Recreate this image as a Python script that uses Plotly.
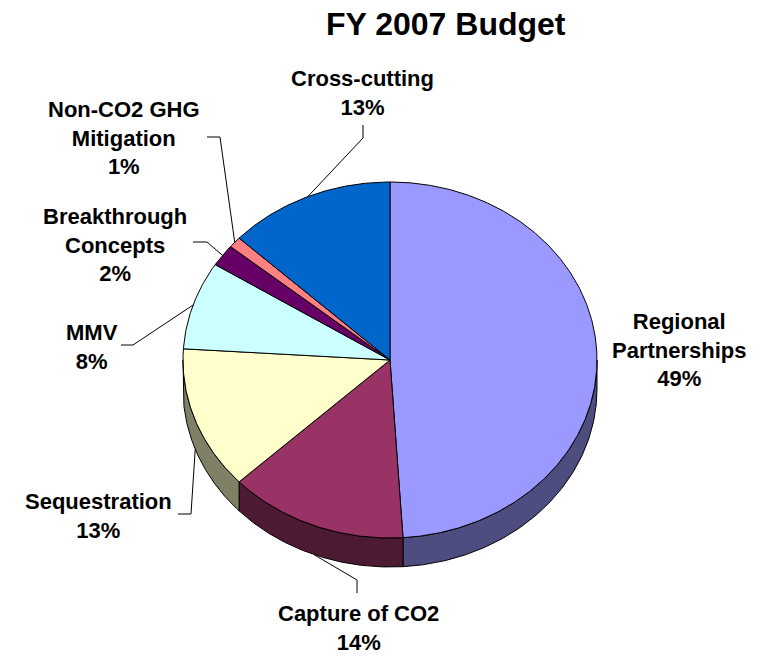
import numpy as np
import plotly.graph_objects as go

# ---- data ----
categories = ["Regional Partnerships", "Capture of CO2", "Sequestration", "MMV",
              "Breakthrough Concepts", "Non-CO2 GHG Mitigation", "Cross-cutting"]
label_lines = ["Regional<br>Partnerships", "Capture of CO2", "Sequestration", "MMV",
               "Breakthrough<br>Concepts", "Non-CO2 GHG<br>Mitigation", "Cross-cutting"]
values = [49, 14, 13, 8, 2, 1, 13]
title = "FY 2007 Budget"

top_colors = ["#9999FF", "#993366", "#FFFFCC", "#CCFFFF", "#660066", "#FF8080", "#0066CC"]
side_colors = ["#4D4D80", "#4D1A33", "#808066", "#668080", "#330033", "#804040", "#003366"]

# ---- geometry (pixel-like data space) ----
W, H = 763, 657
cx, cy, rx, ry, depth = 390, 360, 207, 178, 29
FONT = "Liberation Sans, Arial, sans-serif"


def pt(theta, dy=0.0):
    t = np.radians(theta)
    return cx + rx * np.sin(t), cy - ry * np.cos(t) + dy


total = float(sum(values))
bounds = np.concatenate([[0.0], np.cumsum(values) / total * 360.0])

fig = go.Figure()

# side faces (front half only: 90..270 deg clockwise from top)
for i in range(len(values)):
    a0, a1 = bounds[i], bounds[i + 1]
    s0, s1 = max(a0, 90.0), min(a1, 270.0)
    if s1 <= s0:
        continue
    th = np.linspace(s0, s1, 120)
    xt, yt = pt(th)
    xb, yb = pt(th[::-1], depth)
    xs = np.concatenate([xt, xb, xt[:1]])
    ys = np.concatenate([yt, yb, yt[:1]])
    fig.add_trace(go.Scatter(x=xs, y=ys, mode="lines", fill="toself",
                             fillcolor=side_colors[i],
                             line=dict(color="black", width=1),
                             hoverinfo="skip", showlegend=False))

# top faces
for i in range(len(values)):
    a0, a1 = bounds[i], bounds[i + 1]
    th = np.linspace(a0, a1, max(10, int((a1 - a0) * 2)))
    xa, ya = pt(th)
    xs = np.concatenate([[cx], xa, [cx]])
    ys = np.concatenate([[cy], ya, [cy]])
    fig.add_trace(go.Scatter(x=xs, y=ys, mode="lines", fill="toself",
                             fillcolor=top_colors[i],
                             line=dict(color="black", width=1),
                             hoverinfo="skip", showlegend=False,
                             name=categories[i]))

# label layout: text center, leader start, leader elbow (None = no leader)
label_pos = [(679, 350), (358, 628), (98, 516), (92, 347), (115, 245), (124, 138), (362, 93)]
leader_start = [None, (357, 593), (178, 514), (121, 345), (193, 242), (207, 137), (363, 125)]
leader_elbow = [None, (357, 580), (191, 514), (133, 345), (207, 242), (220, 137), (363, 138)]

for i in range(len(values)):
    pct = f"{values[i] / total * 100:.0f}%"
    lx, ly = label_pos[i]
    fig.add_annotation(x=lx, y=ly, text=f"<b>{label_lines[i]}<br>{pct}</b>",
                       showarrow=False, xref="x", yref="y",
                       font=dict(family=FONT, size=22, color="black"),
                       align="center")
    if leader_start[i] is not None:
        mid = (bounds[i] + bounds[i + 1]) / 2
        dy = depth if 90 < mid < 270 else 0
        ex, ey = pt(mid, dy)
        sx, sy = leader_start[i]
        bx, by = leader_elbow[i]
        fig.add_trace(go.Scatter(x=[sx, bx, ex], y=[sy, by, ey], mode="lines",
                                 line=dict(color="black", width=1),
                                 hoverinfo="skip", showlegend=False))

fig.add_annotation(x=446, y=24, text=f"<b>{title}</b>", showarrow=False,
                   xref="x", yref="y",
                   font=dict(family=FONT, size=32, color="black"))

fig.update_layout(
    width=W, height=H, margin=dict(l=0, r=0, t=0, b=0),
    paper_bgcolor="white", plot_bgcolor="white",
    xaxis=dict(range=[0, W], visible=False, fixedrange=True),
    yaxis=dict(range=[H, 0], visible=False, fixedrange=True),
    showlegend=False,
)

fig.write_html("out.html")
